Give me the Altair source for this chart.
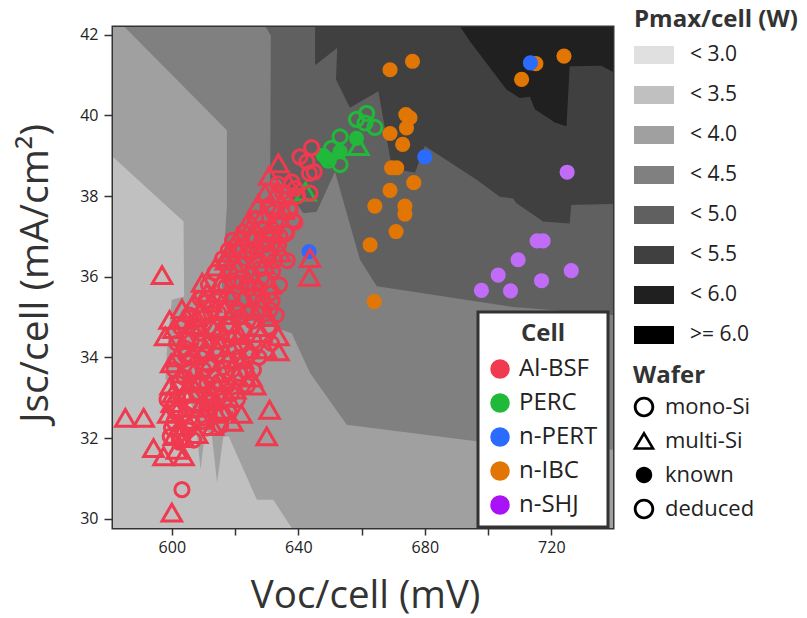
import altair as alt
import pandas as pd

# ---------------- axes ----------------
VOC_DOMAIN = [581.4, 739.5]
JSC_DOMAIN = [29.77, 42.19]
X_TICKS = [600, 620, 640, 660, 680, 700, 720]
Y_TICKS = [30, 32, 34, 36, 38, 40, 42]

# ---------------- Pmax contour background ----------------
PMAX_LEVELS = ["< 3.0", "< 3.5", "< 4.0", "< 4.5", "< 5.0", "< 5.5", "< 6.0", ">= 6.0"]
PMAX_GRAYS = ["#e0e0e0", "#c0c0c0", "#a0a0a0", "#808080", "#606060", "#404040", "#202020", "#000000"]

# each band = region where Pmax is at least the band's lower bound (Voc mV, Jsc mA/cm2)
BAND_LT35 = [(570, 28), (750, 28), (750, 44), (570, 44)]
BAND_LT40 = [(570, 44), (570, 38.97), (581.4, 38.97), (603.7, 37.37), (603.9, 35.51), (600.0, 35.43),
             (598.4, 34.11), (598.0, 33.45), (604.8, 33.28), (607.4, 32.46), (609.1, 31.22),
             (610.6, 32.21), (612.7, 32.04), (614.3, 30.89), (616.3, 32.04), (618.0, 32.04),
             (626.9, 30.47), (632.1, 30.47), (637.9, 29.77), (639.0, 28.0), (750, 28), (750, 44)]
BAND_LT45 = [(584.8, 44), (584.8, 42.21), (617.4, 39.63), (617.4, 37.74), (615.8, 35.76), (618.4, 34.93),
             (626.9, 34.89), (637.9, 34.60), (643.7, 33.61), (655.3, 32.33), (696.3, 31.92),
             (739.5, 31.71), (750, 31.71), (750, 44)]
BAND_LT50 = [(629.5, 44), (629.5, 42.21), (631.3, 41.98), (631.1, 38.40), (634.2, 38.41), (637.9, 37.98),
             (641.6, 37.57), (645.8, 37.61), (651.6, 38.60), (655.3, 37.57), (659.5, 36.42),
             (664.8, 35.76), (707.8, 35.25), (739.5, 35.05), (750, 35.05), (750, 44)]
BAND_LT55 = [(645.3, 44), (645.3, 41.24), (652.3, 41.67), (651.9, 40.89), (656.3, 40.19), (665.3, 40.60),
             (669.5, 38.74), (671.1, 38.66), (676.9, 38.58), (680.0, 39.24), (696.3, 38.41),
             (703.7, 37.98), (707.9, 37.94), (709.0, 37.82), (717.4, 37.37), (725.8, 37.32),
             (726.3, 37.78), (738.4, 37.80), (750, 37.74), (750, 44)]
BAND_LT60 = [(691.1, 44), (691.1, 42.21), (694.2, 41.84), (705.8, 40.64), (710.0, 40.43), (713.2, 40.46),
             (714.8, 40.15), (721.1, 39.82), (724.8, 39.73), (725.8, 41.22), (735.8, 41.23),
             (740.0, 41.05), (750, 41.05), (750, 44)]
CONTOUR_BANDS = [("< 3.5", BAND_LT35), ("< 4.0", BAND_LT40), ("< 4.5", BAND_LT45),
                 ("< 5.0", BAND_LT50), ("< 5.5", BAND_LT55), ("< 6.0", BAND_LT60)]

# ---------------- cells ----------------
CELL_TYPES = ["Al-BSF", "PERC", "n-PERT", "n-IBC", "n-SHJ"]
CELL_COLORS = ["#ef3a4f", "#21b93a", "#2b6cff", "#e17604", "#a912f6"]
SHJ_POINT_COLOR = "#c06cf7"

# Al-BSF, mono-Si wafers (deduced)
ALBSF_MONO = [
    (640.5, 38.97), (644.2, 39.20), (642.7, 38.85), (645.0, 38.60), (643.5, 38.56), (637.9, 38.35),
    (639.0, 38.19), (643.7, 38.07), (637.4, 37.65), (638.4, 37.40), (636.3, 37.08), (617.9, 36.66),
    (611.1, 35.38), (604.2, 34.23), (625.8, 33.69), (599.5, 32.04), (602.1, 32.08), (603.2, 30.72),
    (631.1, 35.59), (631.1, 35.18), (633.5, 38.3), (635.8, 37.9), (632.0, 37.6), (628.6, 37.2),
    (634.2, 37.0), (630.1, 36.8), (625.4, 36.6), (621.8, 36.3), (627.9, 36.2), (632.6, 36.4),
    (619.5, 35.9), (624.3, 35.7), (615.2, 35.5), (628.8, 35.4), (612.4, 35.1), (620.6, 35.2),
    (617.3, 34.8), (625.5, 34.9), (609.1, 34.6), (614.7, 34.4), (622.2, 34.3), (606.3, 34.0),
    (611.8, 33.8), (618.4, 33.9), (627.5, 34.0), (603.9, 33.5), (608.6, 33.3), (615.1, 33.4),
    (621.3, 33.6), (601.8, 33.0), (606.9, 32.8), (612.5, 32.9), (618.8, 33.1), (600.7, 32.4),
    (605.2, 32.2), (610.3, 32.5), (616.2, 32.6), (629.6, 35.9), (623.7, 35.1), (610.8, 34.1),
    (613.6, 36.1), (619.2, 36.9),
    (634.9, 38.1), (639.7, 38.0), (630.4, 37.75), (637.2, 37.7), (626.5, 37.45), (633.0, 37.4),
    (638.9, 37.35), (622.6, 37.1), (629.9, 37.05), (636.0, 37.1), (620.1, 36.75), (627.0, 36.7),
    (633.8, 36.8), (616.1, 36.45), (623.4, 36.45), (630.6, 36.5), (636.5, 36.4), (618.3, 36.1),
    (625.2, 36.05), (631.9, 36.15), (611.6, 35.8), (617.0, 35.75), (622.1, 35.85), (627.6, 35.7),
    (634.1, 35.8), (609.0, 35.45), (614.2, 35.4), (619.1, 35.45), (625.9, 35.5), (631.7, 35.4),
    (605.6, 35.05), (610.5, 35.0), (614.8, 35.1), (621.8, 35.0), (627.4, 35.1), (633.0, 35.05),
    (602.7, 34.75), (608.2, 34.7), (611.9, 34.75), (618.7, 34.8), (623.0, 34.7), (630.6, 34.75),
    (601.6, 34.35), (606.1, 34.4), (612.1, 34.4), (618.2, 34.45), (626.0, 34.4), (631.5, 34.35),
    (604.3, 34.05), (609.4, 34.0), (614.3, 34.05), (620.9, 34.0), (624.1, 34.05), (600.7, 33.7),
    (605.6, 33.65), (610.0, 33.7), (616.3, 33.75), (619.3, 33.7), (623.4, 33.65), (602.0, 33.35),
    (611.1, 33.35), (617.5, 33.3), (623.9, 33.3), (598.5, 32.95), (603.6, 33.0), (608.4, 33.05),
    (614.9, 33.0), (620.7, 32.95), (601.1, 32.65), (604.4, 32.6), (611.9, 32.7), (618.0, 32.65),
    (599.9, 32.25), (606.6, 32.35), (611.0, 32.25), (615.4, 32.3), (602.4, 31.9), (606.9, 31.95),
]
# Al-BSF, multi-Si wafers (deduced)
ALBSF_MULTI = [
    (633.7, 38.81), (629.5, 38.07), (623.7, 37.31), (643.7, 36.46), (643.5, 36.00), (596.9, 36.04),
    (599.3, 34.93), (597.9, 34.52), (603.7, 34.93), (633.7, 34.52), (633.7, 34.15), (585.3, 32.50),
    (591.1, 32.50), (594.2, 31.75), (597.4, 31.55), (603.7, 31.55), (630.9, 32.70), (630.0, 32.04),
    (600.0, 30.15), (601.6, 31.71), (600.0, 32.87), (630.8, 38.5), (627.3, 37.8), (631.6, 37.3),
    (624.9, 37.0), (620.7, 36.7), (617.1, 36.4), (626.2, 35.9), (622.6, 35.5), (611.1, 35.6),
    (616.5, 35.2), (630.4, 35.0), (607.8, 35.0), (613.2, 34.7), (619.9, 34.6), (604.6, 34.5),
    (610.4, 34.2), (616.9, 34.1), (624.6, 34.2), (601.5, 34.0), (607.3, 33.7), (613.8, 33.6),
    (620.1, 33.2), (626.4, 33.3), (599.6, 33.3), (604.5, 33.1), (609.9, 32.9), (615.6, 32.7),
    (622.0, 32.6), (602.6, 32.3), (608.0, 32.1), (613.0, 32.3), (619.1, 32.4), (625.2, 33.5),
    (598.9, 32.6), (628.3, 34.6), (612.0, 33.0), (606.0, 33.4),
    (637.0, 38.3), (632.8, 38.05), (629.0, 37.55), (635.4, 37.65), (625.3, 37.3), (631.3, 37.1),
    (621.2, 37.0), (628.0, 36.95), (634.3, 36.6), (618.0, 36.6), (624.2, 36.7), (629.2, 36.3),
    (613.9, 36.25), (620.6, 36.2), (626.8, 36.45), (609.6, 35.85), (615.3, 35.85), (624.1, 35.9),
    (631.2, 35.8), (607.0, 35.35), (612.5, 35.35), (617.6, 35.6), (628.2, 35.25), (603.2, 35.2),
    (609.3, 35.15), (618.9, 35.05), (624.9, 35.25), (600.5, 34.7), (606.0, 34.8), (615.1, 34.65),
    (621.5, 34.55), (626.9, 34.75), (603.5, 34.25), (608.9, 34.45), (614.0, 34.25), (619.9, 34.3),
    (629.8, 34.2), (599.8, 33.85), (606.5, 34.1), (612.2, 33.9), (617.6, 33.95), (622.5, 33.95),
    (603.0, 33.6), (609.0, 33.45), (614.5, 33.3), (620.6, 33.55), (600.3, 33.1), (606.2, 33.15),
    (612.3, 33.15), (617.9, 33.0), (602.2, 32.75), (608.7, 32.75), (614.4, 32.6), (600.6, 32.05),
    (604.6, 32.45), (609.5, 32.45), (603.7, 32.0),
]

PERC_MONO = [(661.6, 40.05), (658.4, 39.90), (664.2, 39.70), (661.1, 39.81), (653.2, 39.47),
             (650.5, 39.18), (653.2, 38.78), (649.5, 38.89)]
PERC_MULTI = [(659.0, 39.24), (642.3, 38.11)]
PERC_KNOWN = [(658.4, 39.43), (653.2, 39.10), (649.0, 38.93), (647.9, 39.01)]

NIBC = [(669.0, 41.13), (676.1, 41.34), (710.6, 40.89), (715.1, 41.28), (724.0, 41.47), (674.0, 40.02),
        (675.3, 39.94), (674.2, 39.69), (669.0, 39.55), (673.0, 39.28), (669.5, 38.70), (671.1, 38.70),
        (676.5, 38.33), (669.0, 38.14), (664.2, 37.75), (673.7, 37.75), (673.7, 37.55), (670.9, 37.12),
        (662.7, 36.79), (664.0, 35.38)]
NPERT = [(713.4, 41.30), (680.0, 38.97), (643.4, 36.62)]
NSHJ = [(725.0, 38.59), (715.5, 36.89), (717.4, 36.89), (709.5, 36.42), (703.2, 36.04), (726.3, 36.15),
        (716.9, 35.90), (697.9, 35.66), (707.1, 35.65)]

# ---------------- wafer legend ----------------
WAFER_ITEMS = ["mono-Si", "multi-Si", "known", "deduced"]
RING = "M1,0A1,1,0,1,1,-1,0A1,1,0,1,1,1,0Z M0.72,0A0.72,0.72,0,1,0,-0.72,0A0.72,0.72,0,1,0,0.72,0Z"
TRI_RING = "M0,-1L1.1,0.85L-1.1,0.85Z M0,-0.5L-0.66,0.6L0.66,0.6Z"
DOT = "M0.8,0A0.8,0.8,0,1,1,-0.8,0A0.8,0.8,0,1,1,0.8,0Z"
WAFER_SHAPES = [RING, TRI_RING, DOT, RING]

FONT = "Open Sans"

# ---------------- data frames ----------------
contour_rows = []
for level, band in CONTOUR_BANDS:
    for i, (v, j) in enumerate(band):
        contour_rows.append({"level": level, "i": i, "voc": v, "jsc": j})
contour_df = pd.DataFrame(contour_rows)


def pts(cell, pairs):
    return pd.DataFrame({"voc": [p[0] for p in pairs], "jsc": [p[1] for p in pairs], "cell": cell})


open_circles = pd.concat([pts("Al-BSF", ALBSF_MONO), pts("PERC", PERC_MONO)])
open_triangles = pd.concat([pts("Al-BSF", ALBSF_MULTI), pts("PERC", PERC_MULTI)])
filled = pd.concat([pts("n-IBC", NIBC), pts("n-PERT", NPERT), pts("PERC", PERC_KNOWN)])
shj = pts("n-SHJ", NSHJ)
wafer_df = pd.DataFrame({"wafer": WAFER_ITEMS, "voc": [560] * 4, "jsc": [20] * 4})

xs = alt.Scale(domain=VOC_DOMAIN, nice=False, zero=False)
ys = alt.Scale(domain=JSC_DOMAIN, nice=False, zero=False)

x_enc = alt.X("voc:Q", scale=xs, axis=alt.Axis(
    title="Voc/cell (mV)", values=X_TICKS, format="d",
    labelExpr="datum.value % 40 == 0 ? datum.label : ''",
    tickSize=7, tickColor="#333333", tickWidth=1.5, labelFontSize=16, labelColor="#222222",
    labelPadding=4, domain=False, grid=False, titleFontSize=38.5, titleFontWeight="normal",
    titleColor="#333333", titleX=252, titleY=79, titleBaseline="alphabetic"))
y_enc = alt.Y("jsc:Q", scale=ys, axis=alt.Axis(
    title="Jsc/cell (mA/cm²)", values=Y_TICKS, format="d",
    tickSize=9, tickColor="#333333", tickWidth=1.5, labelFontSize=16, labelColor="#222222",
    labelPadding=6, domain=False, grid=False, titleFontSize=39, titleFontWeight="normal",
    titleColor="#333333", titleX=-66, titleY=246, titleAngle=270, titleAlign="center",
    titleBaseline="alphabetic"))

pmax_legend = alt.Legend(
    title="Pmax/cell (W)", orient="none", legendX=521, legendY=-19,
    symbolType="M-1,-0.45L1,-0.45L1,0.45L-1,0.45Z", symbolSize=1600,
    symbolStrokeWidth=0, symbolOpacity=1, labelFontSize=21, labelColor="#222222",
    titleFontSize=24, titleFontWeight="bold", titleColor="#333333", labelOffset=16,
    rowPadding=10, titlePadding=3)
cell_legend = alt.Legend(
    title="Cell", orient="none", legendX=365, legendY=285, fillColor="white",
    strokeColor="#333333", padding=10, titleAnchor="middle", symbolType="circle",
    symbolSize=380, symbolStrokeWidth=0, symbolOpacity=1, labelFontSize=24,
    labelColor="#222222", titleFontSize=24, titleFontWeight="bold", titleColor="#333333",
    labelOffset=7, rowPadding=10, titlePadding=11)
wafer_legend = alt.Legend(
    title="Wafer", orient="none", legendX=520, legendY=337, symbolSize=420,
    symbolStrokeWidth=0, symbolOpacity=1, labelFontSize=22, labelColor="#222222",
    titleFontSize=24, titleFontWeight="bold", titleColor="#333333", labelOffset=10,
    rowPadding=12, titlePadding=8)

cell_color = alt.Color("cell:N", scale=alt.Scale(domain=CELL_TYPES, range=CELL_COLORS),
                       legend=cell_legend)

contours = alt.Chart(contour_df).mark_line(
    interpolate="linear-closed", clip=True, stroke="transparent", strokeWidth=0
).encode(
    x=x_enc, y=y_enc,
    fill=alt.Fill("level:N", scale=alt.Scale(domain=PMAX_LEVELS, range=PMAX_GRAYS),
                  legend=pmax_legend),
    detail="level:N",
    order="i:Q",
)

filled_layer = alt.Chart(filled).mark_point(
    shape="circle", filled=True, size=230, opacity=1, clip=True
).encode(x="voc:Q", y="jsc:Q", color=cell_color)

circle_layer = alt.Chart(open_circles).mark_point(
    shape="circle", filled=False, size=200, strokeWidth=3, opacity=1, clip=True
).encode(x="voc:Q", y="jsc:Q", color=cell_color)

tri_layer = alt.Chart(open_triangles).mark_point(
    shape="triangle-up", filled=False, size=380, strokeWidth=3, opacity=1, clip=True
).encode(x="voc:Q", y="jsc:Q", color=cell_color)

shj_layer = alt.Chart(shj).mark_point(
    shape="circle", filled=True, size=230, opacity=1, color=SHJ_POINT_COLOR, clip=True
).encode(x="voc:Q", y="jsc:Q")

wafer_layer = alt.Chart(wafer_df).mark_point(
    filled=True, color="black", opacity=1, clip=True
).encode(
    x="voc:Q", y="jsc:Q",
    shape=alt.Shape("wafer:N", scale=alt.Scale(domain=WAFER_ITEMS, range=WAFER_SHAPES),
                    legend=wafer_legend),
)

chart = alt.layer(
    contours, filled_layer, tri_layer, circle_layer, shj_layer, wafer_layer
).properties(
    width=500, height=501,
    autosize=alt.AutoSizeParams(type="none"),
    padding={"left": 113, "top": 27, "right": 194, "bottom": 90},
).configure(
    font=FONT,
).configure_view(
    stroke="#333333", strokeWidth=3, fill="#c0c0c0",
).configure_legend(
    strokeWidth=3,
)

chart.save("out.html", embed_options={"renderer": "svg", "actions": False})
